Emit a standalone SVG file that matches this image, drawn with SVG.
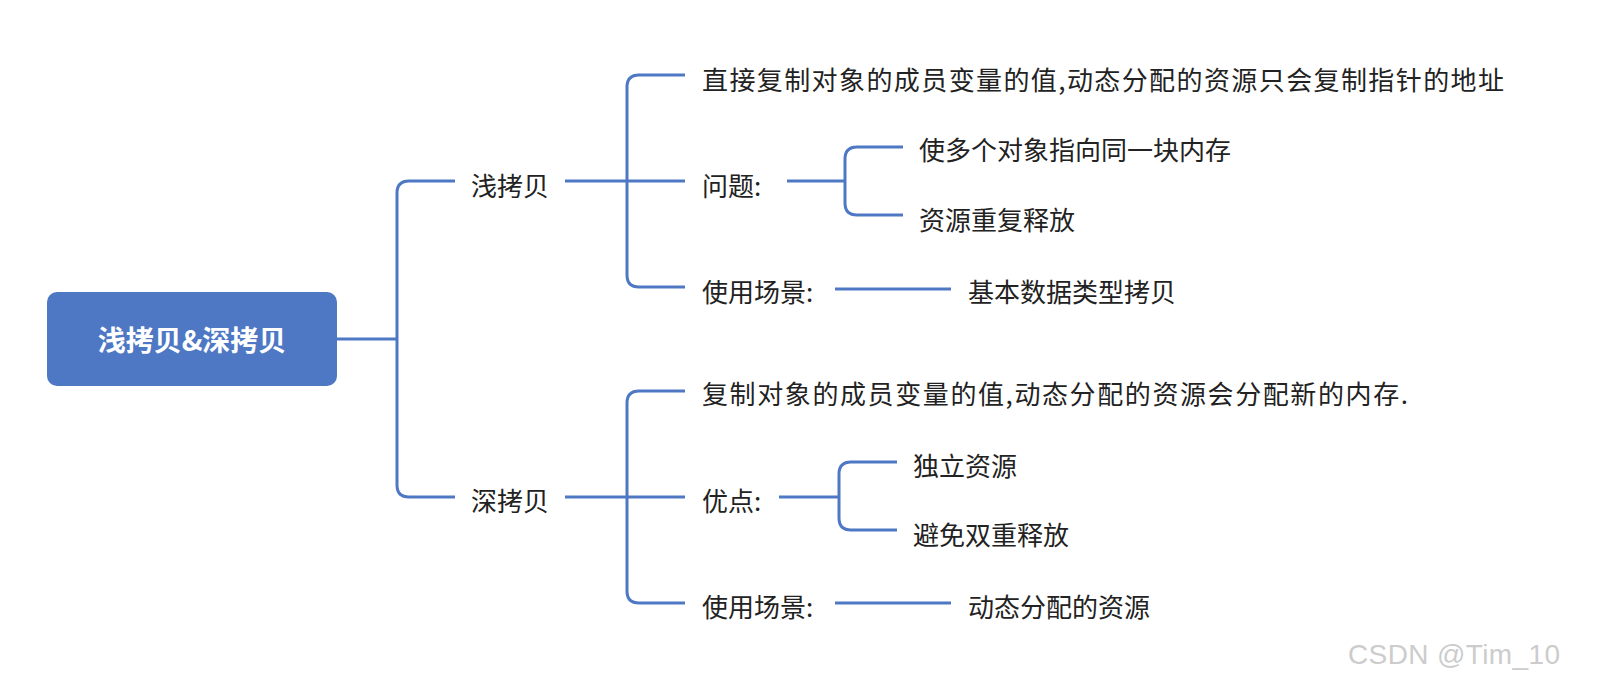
<svg xmlns="http://www.w3.org/2000/svg" width="1600" height="694" viewBox="0 0 1600 694">
<style>
.c{fill:none;stroke:#4E78C4;stroke-width:3}
text{font-family:"Noto Sans CJK SC","Noto Sans",sans-serif;font-size:26px;fill:#222;dominant-baseline:central}
.r{fill:#fff;font-weight:bold;font-size:28px;text-anchor:middle}
</style>
<rect width="1600" height="694" fill="#fff"/>
<g id="connectors">
<path class="c" d="M337 339H397M455 181H409Q397 181 397 193V485Q397 497 409 497H455"/>
<path class="c" d="M565 181H685M685 75H639Q627 75 627 87V275Q627 287 639 287H685"/>
<path class="c" d="M787 181H845M903 147H857Q845 147 845 159V203Q845 215 857 215H903"/>
<path class="c" d="M835 289H951"/>
<path class="c" d="M565 497H685M685 391H639Q627 391 627 403V591Q627 603 639 603H685"/>
<path class="c" d="M779 497H839M897 462H851Q839 462 839 474V518Q839 530 851 530H897"/>
<path class="c" d="M835 603H951"/>
</g>
<g id="root"><rect x="47" y="292" width="290" height="94" rx="10" fill="#4E78C4"/><text class="r" x="192" y="339">浅拷贝&amp;深拷贝</text></g>
<g id="shallow"><text x="471" y="184">浅拷贝</text></g>
<g id="s1"><text x="702" y="78" textLength="802">直接复制对象的成员变量的值,动态分配的资源只会复制指针的地址</text></g>
<g id="s2"><text x="702" y="184">问题:</text></g>
<g id="s2a"><text x="919" y="148">使多个对象指向同一块内存</text></g>
<g id="s2b"><text x="919" y="218">资源重复释放</text></g>
<g id="s3"><text x="702" y="290">使用场景:</text></g>
<g id="s3a"><text x="968" y="290">基本数据类型拷贝</text></g>
<g id="deep"><text x="471" y="499">深拷贝</text></g>
<g id="d1"><text x="702" y="392" textLength="706">复制对象的成员变量的值,动态分配的资源会分配新的内存.</text></g>
<g id="d2"><text x="702" y="499">优点:</text></g>
<g id="d2a"><text x="913" y="464">独立资源</text></g>
<g id="d2b"><text x="913" y="533">避免双重释放</text></g>
<g id="d3"><text x="702" y="605">使用场景:</text></g>
<g id="d3a"><text x="968" y="605">动态分配的资源</text></g>
<text x="1348" y="654" textLength="212" style="font-family:'Liberation Sans',sans-serif;font-size:28px;fill:#ccc">CSDN @Tim_10</text>
</svg>
